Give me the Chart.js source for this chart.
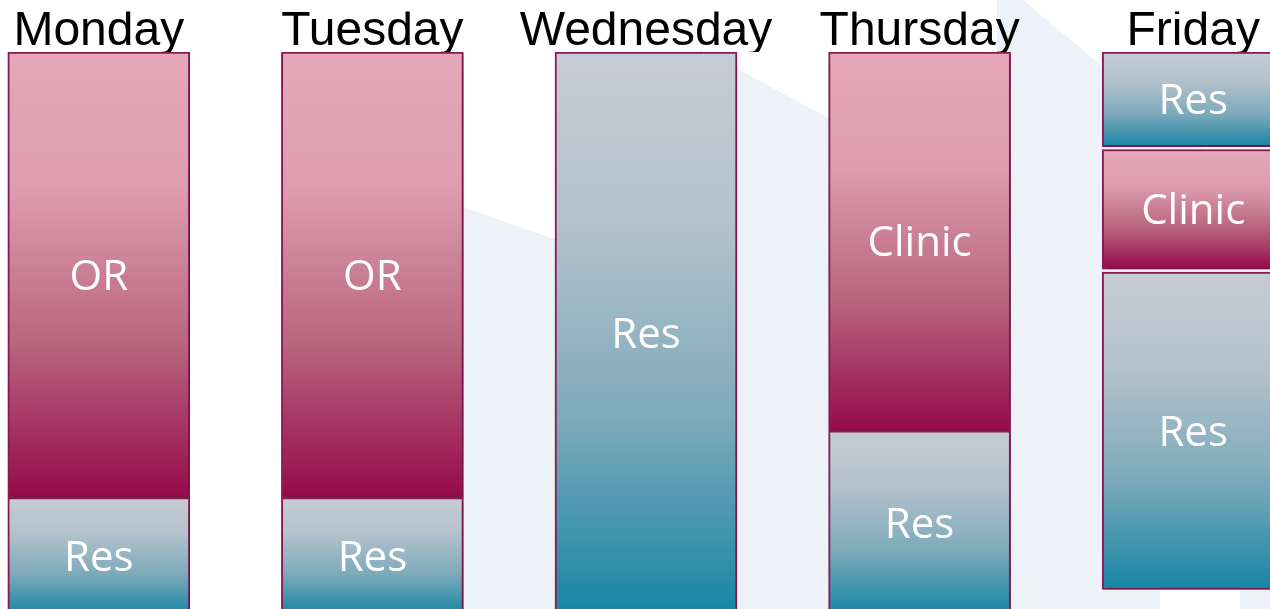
<!DOCTYPE html>
<html>
<head>
<meta charset="utf-8">
<script src="https://cdn.jsdelivr.net/npm/chart.js@4"></script>
<style>
  html, body { margin: 0; padding: 0; width: 1270px; height: 609px; overflow: hidden; background: #fff; }
  #bg {
    position: absolute; left: 0; top: 0; width: 1270px; height: 609px;
    background: #edf2f9;
    clip-path: polygon(300px 150px, 700px 290px, 700px 49px, 997px 208px, 997px 0px, 1023px 0px, 1300px 231px, 1300px 609px, 400px 609px);
  }
  #gap { position: absolute; left: 1160px; top: 590px; width: 80px; height: 19px; background: #fff; }
  #wrap { position: absolute; left: -38px; top: 0; width: 1368px; height: 609px; }
</style>
</head>
<body>
<div id="bg"></div>
<div id="gap"></div>
<div id="wrap"><canvas id="scheduleChart"></canvas></div>
<script>
// Week days (column headers)
const days = ['Monday', 'Tuesday', 'Wednesday', 'Thursday', 'Friday'];

// Time blocks in hours, top to bottom, per day
const block1 = [[7, 15], [7, 15], [7, 17.1], [7, 13.8], [7, 8.7]];
const block2 = [[15, 17.1], [15, 17.1], null, [13.8, 17.1], [8.75, 10.9]];
const block3 = [null, null, null, null, [10.95, 16.65]];

// Activity in each block
const names1 = ['OR', 'OR', 'Res', 'Clinic', 'Res'];
const names2 = ['Res', 'Res', null, 'Res', 'Clinic'];
const names3 = [null, null, null, null, 'Res'];

const palette = {
    OR: ['#e6a7b9', '#de9db1', '#b9667f', '#950a4a'],
    Clinic: ['#e6a7b9', '#de9db1', '#b9667f', '#950a4a'],
    Res: ['#c6ccd4', '#b4c2cc', '#7eaabb', '#1685a4']
};

function fillFor(names) {
    return ctx => {
        const name = names[ctx.dataIndex];
        const y = ctx.chart.scales.y;
        const v = ctx.raw;
        if (ctx.type !== 'data' || !name || !y || !v) return palette.Res[1];
        const top = y.getPixelForValue(v[0]);
        const bot = y.getPixelForValue(v[1]);
        const c = palette[name];
        if (!isFinite(top) || !isFinite(bot)) return c[1];
        const g = ctx.chart.ctx.createLinearGradient(0, top, 0, bot);
        g.addColorStop(0, c[0]);
        g.addColorStop(0.3, c[1]);
        g.addColorStop(0.65, c[2]);
        g.addColorStop(1, c[3]);
        return g;
    };
}

// soft drop shadow under the blocks
const shadowPlugin = {
    id: 'shadow',
    beforeDatasetsDraw(chart) {
        const c = chart.ctx;
        c.save();
        c.shadowColor = 'rgba(0,0,0,0.25)';
        c.shadowBlur = 6;
        c.shadowOffsetX = 2;
        c.shadowOffsetY = 2;
    },
    afterDatasetsDraw(chart) {
        chart.ctx.restore();
    }
};

// white activity names in the middle of each block
const namesPlugin = {
    id: 'blockNames',
    afterDraw(chart) {
        const c = chart.ctx;
        const lists = [names1, names2, names3];
        c.save();
        c.fillStyle = '#ffffff';
        c.font = '42px "Open Sans"';
        c.textAlign = 'center';
        c.textBaseline = 'middle';
        chart.data.datasets.forEach((ds, i) => {
            chart.getDatasetMeta(i).data.forEach((bar, j) => {
                const name = lists[i][j];
                if (!name || !ds.data[j]) return;
                c.fillText(name, bar.x, (bar.y + bar.base) / 2 + 3);
            });
        });
        c.restore();
    }
};

const ctx = document.getElementById('scheduleChart').getContext('2d');
new Chart(ctx, {
    type: 'bar',
    data: {
        labels: days,
        datasets: [
            { label: 'block1', data: block1, backgroundColor: fillFor(names1) },
            { label: 'block2', data: block2, backgroundColor: fillFor(names2) },
            { label: 'block3', data: block3, backgroundColor: fillFor(names3) }
        ]
    },
    options: {
        responsive: true,
        maintainAspectRatio: false,
        animation: false,
        grouped: false,
        barThickness: 182,
        borderColor: '#8f1b57',
        borderWidth: 2,
        borderSkipped: false,
        layout: { padding: { top: 11.4, left: 0, right: 0, bottom: 0 } },
        plugins: {
            legend: { display: false },
            tooltip: { enabled: false }
        },
        scales: {
            x: {
                position: 'top',
                grid: { display: false, drawTicks: false },
                border: { display: false },
                ticks: {
                    color: '#000',
                    padding: 0,
                    font: { family: '"Liberation Sans", Arial, sans-serif', size: 48, lineHeight: 0.846 }
                }
            },
            y: {
                display: false,
                reverse: true,
                min: 7,
                max: 17
            }
        }
    },
    plugins: [shadowPlugin, namesPlugin]
});
</script>
</body>
</html>
